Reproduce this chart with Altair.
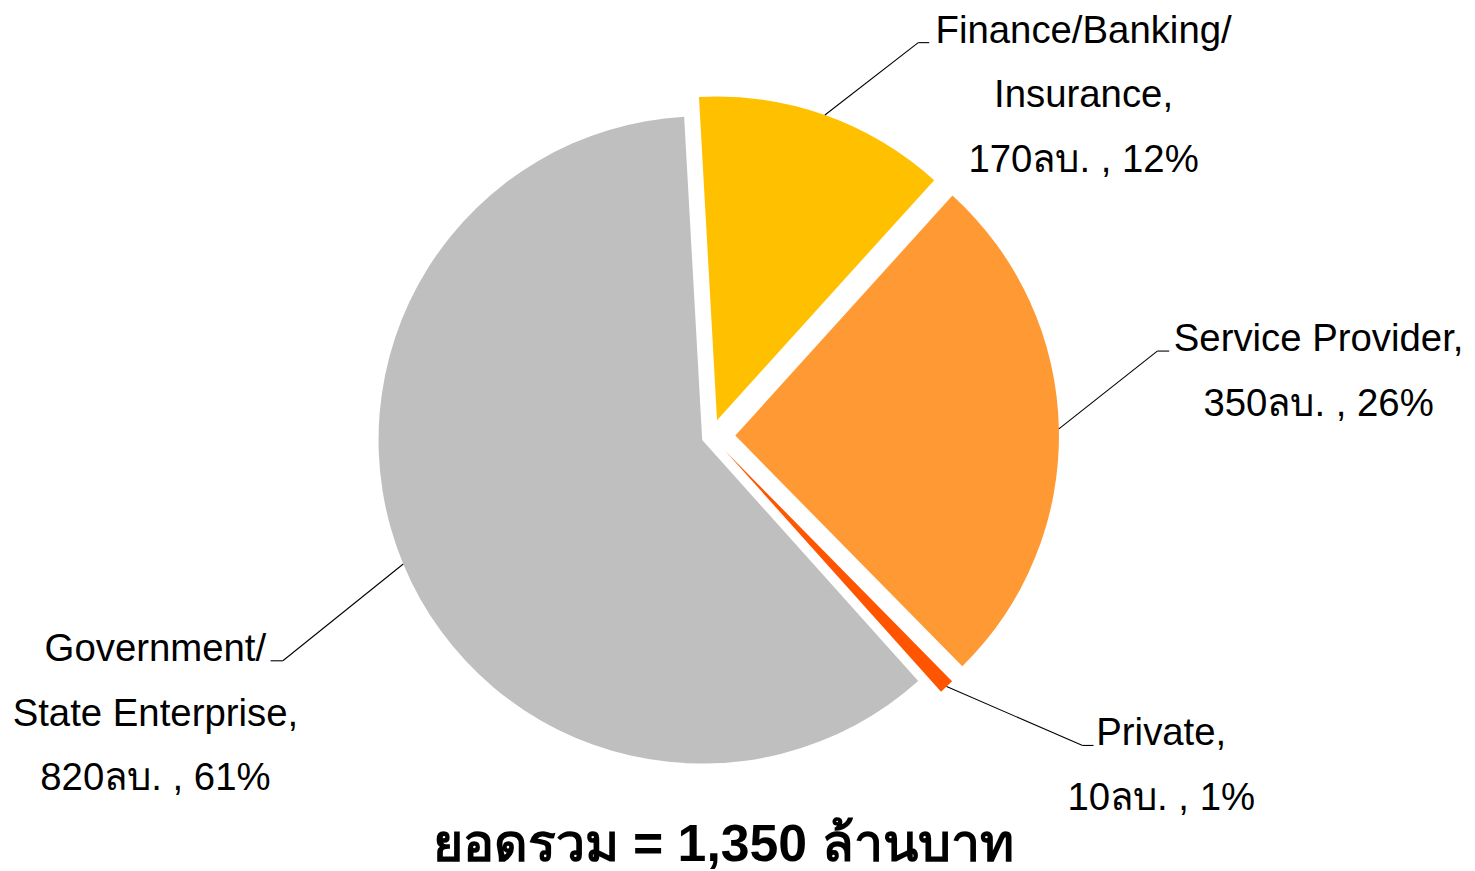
import math
import altair as alt
import pandas as pd

# ---- data ----
categories = ["Finance/Banking/ Insurance", "Service Provider", "Private", "Government/ State Enterprise"]
label_lines = [["Finance/Banking/", "Insurance,"], ["Service Provider,"], ["Private,"], ["Government/", "State Enterprise,"]]
values = [170, 350, 10, 820]          # ล้านบาท
percents = [12, 26, 1, 61]            # as printed on the labels
unit = "ลบ."
title_text = "ยอดรวม = 1,350 ล้านบาท"

# ---- style / layout ----
colors = ["#FFC000", "#FF9933", "#FF5500", "#BFBFBF"]
explode_px = [17, 24, 20, 10]
W, H = 1465, 866
CX, CY, R = 706.3, 428.1, 325
START = math.radians(-3.2)
FONT = "Liberation Sans, Arial, sans-serif"
# label anchors (elbow of leader, end of short tick, text centre x)
elbow_x = [914, 1154, 1079, 276]
elbow_y = [33, 342.7, 738.7, 653.7]
tick_x = [925, 1166, 1090, 263.7]
text_x = [1080, 1316, 1158, 148]

df = pd.DataFrame({
    "order": list(range(len(values))),
    "cat": categories,
    "value": values,
    "label": ["\n".join(l + [f"{v}{unit} , {p}%"]) for l, v, p in zip(label_lines, values, percents)],
    "explode": explode_px,
    "elx": elbow_x,
    "ely": elbow_y,
    "tkx": tick_x,
    "tx": text_x,
})

base = alt.Chart(df).transform_joinaggregate(
    total="sum(value)"
).transform_window(
    cum="sum(value)", sort=[alt.SortField("order")], frame=[None, 0]
).transform_calculate(
    a0=f"{START} + 2*PI*(datum.cum - datum.value)/datum.total",
    a1=f"{START} + 2*PI*datum.cum/datum.total",
).transform_calculate(
    mid="(datum.a0 + datum.a1)/2",
).transform_calculate(
    cx=f"{CX} + datum.explode*sin(datum.mid)",
    cy=f"{CY} - datum.explode*cos(datum.mid)",
).transform_calculate(
    ex=f"datum.cx + {R}*sin(datum.mid)",
    ey=f"datum.cy - {R}*cos(datum.mid)",
)

arcs = base.mark_arc(radius=R, stroke=None).encode(
    x=alt.X("cx:Q", scale=None, axis=None),
    y=alt.Y("cy:Q", scale=None, axis=None),
    theta=alt.Theta("a0:Q", scale=None),
    theta2="a1:Q",
    color=alt.Color("cat:N", scale=alt.Scale(domain=categories, range=colors), legend=None),
)

lead1 = base.mark_rule(color="black", strokeWidth=1.1).encode(
    x=alt.X("ex:Q", scale=None, axis=None), y=alt.Y("ey:Q", scale=None, axis=None),
    x2="elx:Q", y2="ely:Q",
)
lead2 = base.mark_rule(color="black", strokeWidth=1.1).encode(
    x=alt.X("elx:Q", scale=None, axis=None), y=alt.Y("ely:Q", scale=None, axis=None),
    x2="tkx:Q", y2="ely:Q",
)

labels = base.mark_text(
    font=FONT, fontSize=38.5, lineBreak="\n", lineHeight=65,
    align="center", baseline="alphabetic", color="black",
).encode(
    x=alt.X("tx:Q", scale=None, axis=None), y=alt.Y("ely:Q", scale=None, axis=None),
    text="label:N",
)

title = alt.Chart(pd.DataFrame({"t": [title_text]})).mark_text(
    font=FONT, fontSize=52, fontWeight="bold", align="center", baseline="alphabetic", color="black",
).encode(
    x=alt.value(718), y=alt.value(855), text="t:N",
)

chart = alt.layer(arcs, lead1, lead2, labels, title).properties(
    width=W, height=H, padding=0, autosize="none",
).configure_view(stroke=None)

chart.save("out.html", embed_options={"renderer": "svg", "actions": False})
